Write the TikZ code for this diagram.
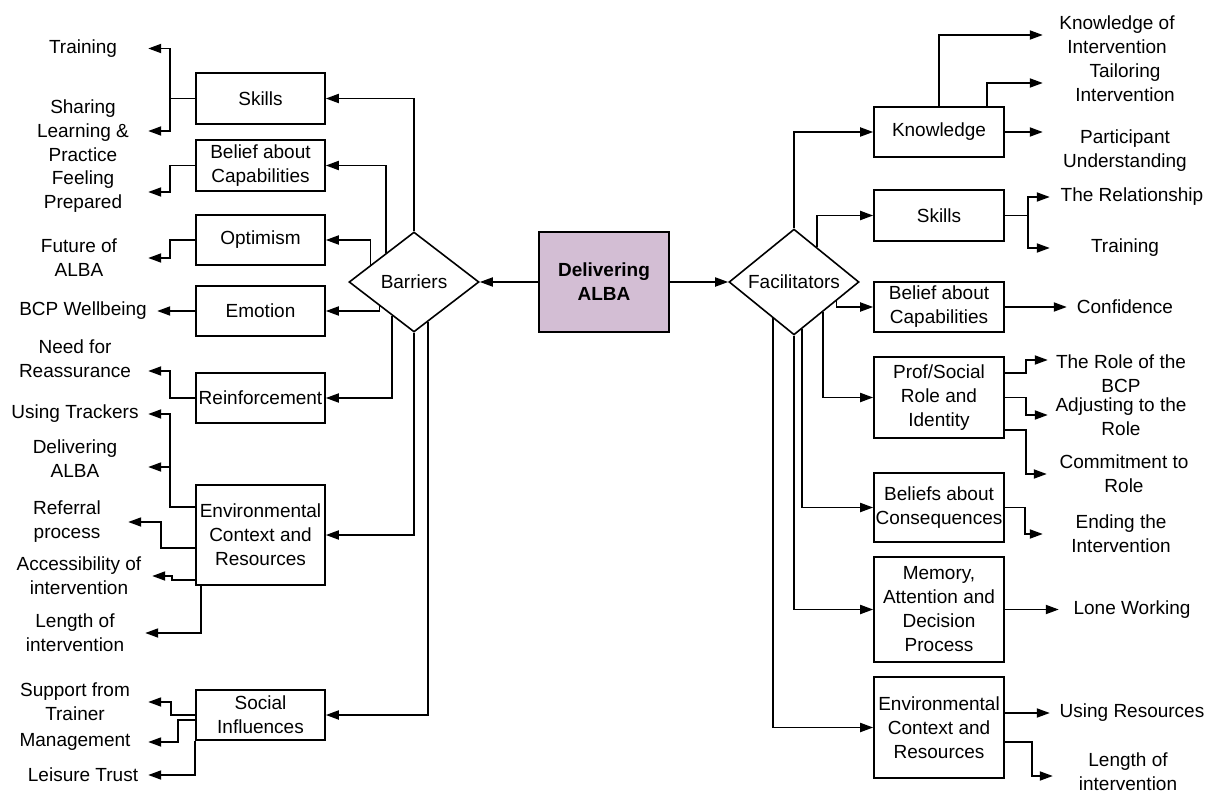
\documentclass[tikz,border=0pt]{standalone}
\usepackage{fontspec}
\setmainfont{Liberation Sans}
\usetikzlibrary{arrows.meta,shapes.geometric,calc}
\definecolor{hubfill}{RGB}{211,190,212}
\newcommand\labfont{\fontsize{19}{24}\selectfont}
\begin{document}
\begin{tikzpicture}[x=1pt,y=-1pt,
  box/.style={draw, line width=1.6pt, rectangle, minimum width=129pt, inner sep=1pt, align=center, font=\labfont},
  rbox/.style={box, minimum width=130pt},
  decision/.style={draw, line width=1.6pt, shape=diamond, minimum width=130pt, minimum height=100pt, inner sep=0pt, font=\labfont},
  leaf/.style={inner sep=0pt, align=center, font=\labfont},
  arr/.style={-{Triangle[length=13pt,width=9pt]}, line width=1.8pt}]

\fill[white] (0,0) rectangle (1222,794);
\useasboundingbox (0,0) rectangle (1222,794);

% centre and the two decision nodes
\node[box, rbox, fill=hubfill, minimum height=100pt, font=\labfont\bfseries] (hub) at (604,282) {Delivering\\ALBA};
\node[decision] (bar) at (414,282) {Barriers};
\node[decision] (fac) at (794,282) {Facilitators};
\draw[arr] (hub.west) -- (bar.east);
\draw[arr] (hub.east) -- (fac.west);

% barrier domains
\node[box, minimum height=51pt] (bskills) at (260.5,98.5) {Skills};
\node[box, minimum height=51pt] (bbel) at (260.5,165.5) {Belief about\\Capabilities};
\node[box, minimum height=50pt] (bopt) at (260.5,240) {Optimism};
\node[box, minimum height=50pt] (bemo) at (260.5,311) {Emotion};
\node[box, minimum height=50pt] (brei) at (260.5,398) {Reinforcement};
\node[box, minimum height=100pt] (benv) at (260.5,535) {Environmental\\Context and\\Resources};
\node[box, minimum height=50pt] (bsoc) at (260.5,715) {Social\\Influences};

% facilitator domains
\node[rbox, minimum height=50pt] (fknow) at (939,132) {Knowledge};
\node[rbox, minimum height=51pt] (fsk) at (939,215.5) {Skills};
\node[rbox, minimum height=50pt] (fbel) at (939,307) {Belief about\\Capabilities};
\node[rbox, minimum height=81pt] (fprof) at (939,397.5) {Prof/Social\\Role and\\Identity};
\node[rbox, minimum height=69pt] (fcons) at (939,507.5) {Beliefs about\\Consequences};
\node[rbox, minimum height=105pt] (fmem) at (939,609.5) {Memory,\\Attention and\\Decision\\Process};
\node[rbox, minimum height=101pt] (fenv) at (939,727.5) {Environmental\\Context and\\Resources};

% points on the diamond edges where the branches leave
\coordinate (b1) at ($(bar.west)!0.569!(bar.north)$);
\coordinate (b2) at ($(bar.west)!0.338!(bar.north)$);
\coordinate (b3) at ($(bar.west)!0.477!(bar.south)$);
\coordinate (b4) at ($(bar.west)!0.66!(bar.south)$);
\coordinate (b5) at ($(bar.south)!0.215!(bar.east)$);
\coordinate (f1) at ($(fac.north)!0.354!(fac.east)$);
\coordinate (f2) at ($(fac.east)!0.354!(fac.south)$);
\coordinate (f3) at ($(fac.east)!0.554!(fac.south)$);
\coordinate (f4) at ($(fac.east)!0.877!(fac.south)$);
\coordinate (f5) at ($(fac.west)!0.677!(fac.south)$);

\draw[arr] (bar.north) |- (bskills.east);
\draw[arr] (b1) |- (bbel.east);
\draw[arr] (b2) |- (bopt.east);
\draw[arr] (b3) |- (bemo.east);
\draw[arr] (b4) |- (brei.east);
\draw[arr] (bar.south) |- (benv.east);
\draw[arr] (b5) |- (bsoc.east);

\draw[arr] (fac.north) |- (fknow.west);
\draw[arr] (f1) |- (fsk.west);
\draw[arr] (f2) |- (fbel.west);
\draw[arr] (f3) |- (fprof.west);
\draw[arr] (f4) |- (fcons.west);
\draw[arr] (fac.south) |- (fmem.west);
\draw[arr] (f5) |- (fenv.west);

% barrier themes
\node[leaf, minimum width=130pt] (ltrain) at (83,48.5) {Training};
\node[leaf, minimum width=130pt] (lshare) at (83,131) {Sharing\\Learning \&\\Practice};
\node[leaf, minimum width=130pt] (lfeel) at (83,192) {Feeling\\Prepared};
\node[leaf, minimum width=138pt] (lfut) at (79,258) {Future of\\ALBA};
\node[leaf, minimum width=148pt] (lbcp) at (83,311) {BCP Wellbeing};
\node[leaf, minimum width=146pt] (lneed) at (75,359) {Need for\\Reassurance};
\node[leaf, minimum width=146pt] (luse) at (75,414) {Using Trackers};
\node[leaf, minimum width=146pt] (ldel) at (75,459) {Delivering\\ALBA};
\node[leaf, minimum width=122pt] (lref) at (67,522) {Referral\\process};
\node[leaf, minimum width=146pt] (lacc) at (79,576) {Accessibility of\\intervention};
\node[leaf, minimum width=140pt] (llen) at (75,633) {Length of\\intervention};
\node[leaf, minimum width=146pt] (lsup) at (75,702) {Support from\\Trainer};
\node[leaf, minimum width=146pt] (lman) at (75,742) {Management};
\node[leaf, minimum width=130pt] (llei) at (83,775) {Leisure Trust};

\draw[arr] (bskills.west) -- ++(-25,0) |- (ltrain.east);
\draw[arr] (bskills.west) -- ++(-25,0) |- (lshare.east);
\draw[arr] (bbel.west) -- ++(-25,0) |- (lfeel.east);
\draw[arr] (bopt.west) -- ++(-25,0) |- (lfut.east);
\draw[arr] (bemo.west) -- (lbcp.east);
\draw[arr] (brei.west) -- ++(-25,0) |- ([yshift=-12pt]lneed.east);
\draw[arr] ([yshift=28pt]benv.west) -- ++(-25,0) coordinate (ej) |- (luse.east);
\draw[arr] (ej) |- ([yshift=-8pt]ldel.east);
\draw[arr] ([yshift=-13pt]benv.west) -- ++(-34,0) |- (lref.east);
\draw[arr] ([yshift=-45pt]benv.west) -- ++(-23,0) |- (lacc.east);
\draw[arr] ([xshift=6pt]benv.south west) |- (llen.east);
\draw[arr] (bsoc.west) -- ++(-24,0) |- (lsup.east);
\draw[arr] ([yshift=-5pt]bsoc.west) -- ++(-17,0) |- (lman.east);
\draw[arr] (bsoc.south west) |- (llei.east);

% facilitator themes
\node[leaf, minimum width=148pt] (rkoi) at (1117,35) {Knowledge of\\Intervention};
\node[leaf, minimum width=164pt] (rtail) at (1125,83) {Tailoring\\Intervention};
\node[leaf, minimum width=164pt] (rpart) at (1125,150.5) {Participant\\Understanding};
\node[leaf, minimum width=164pt] (rrel) at (1132,197) {The Relationship};
\node[leaf, minimum width=150pt] (rtrain) at (1125,248) {Training};
\node[leaf, minimum width=116pt] (rconf) at (1125,307) {Confidence};
\node[leaf, minimum width=146pt] (rrole) at (1121,373.5) {The Role of the\\BCP};
\node[leaf, minimum width=146pt] (radj) at (1121,417) {Adjusting to the\\Role};
\node[leaf, minimum width=154pt] (rcom) at (1124,474) {Commitment to\\Role};
\node[leaf, minimum width=156pt] (rend) at (1121,534) {Ending the\\Intervention};
\node[leaf, minimum width=146pt] (rlone) at (1132,609.5) {Lone Working};
\node[leaf, minimum width=164pt] (ruse) at (1132,713) {Using Resources};
\node[leaf, minimum width=150pt] (rlen) at (1128,772) {Length of\\intervention};

\draw[arr] (fknow.north) |- (rkoi.west);
\draw[arr] ([xshift=48pt]fknow.north) |- (rtail.west);
\draw[arr] (fknow.east) -- (fknow.east -| rpart.west);
\draw[arr] (fsk.east) -- ++(23,0) |- (rrel.west);
\draw[arr] (fsk.east) -- ++(23,0) |- (rtrain.west);
\draw[arr] (fbel.east) -- (rconf.west);
\draw[arr] ([yshift=24.5pt]fprof.east) -- ++(21,0) |- ([yshift=13.5pt]rrole.west);
\draw[arr] (fprof.east) -- ++(21,0) |- ([yshift=2pt]radj.west);
\draw[arr] ([yshift=-32.5pt]fprof.east) -- ++(21,0) |- (rcom.west);
\draw[arr] (fcons.east) -- ++(20,0) |- (rend.west);
\draw[arr] (fmem.east) -- (rlone.west);
\draw[arr] ([yshift=14.5pt]fenv.east) -- (ruse.west);
\draw[arr] ([yshift=-14.5pt]fenv.east) -- ++(27,0) |- ([yshift=-4pt]rlen.west);
\end{tikzpicture}
\end{document}
